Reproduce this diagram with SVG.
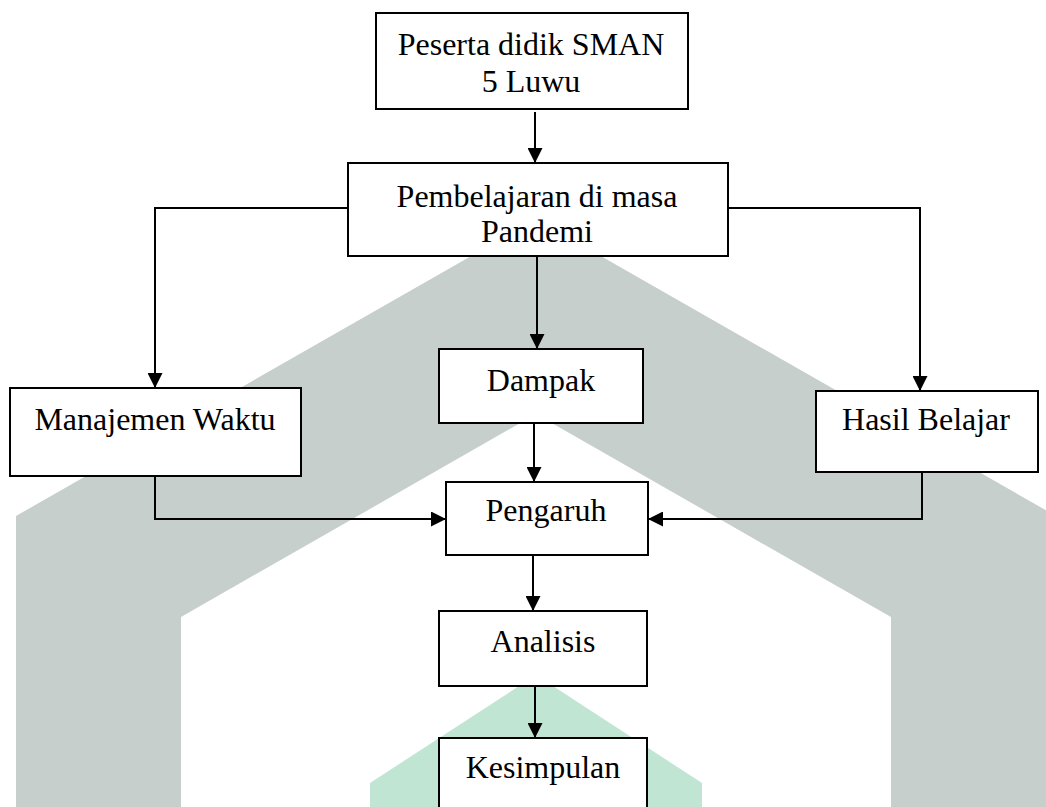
<svg xmlns="http://www.w3.org/2000/svg" width="1046" height="807" viewBox="0 0 1046 807">
<style>
.box{fill:#ffffff;stroke:#000000;stroke-width:2}
.t{font-family:"Liberation Serif","Times New Roman",serif;font-size:32px;fill:#000000;text-anchor:middle}
.c{fill:none;stroke:#000000;stroke-width:2}
</style>
<defs>
<marker id="ah" markerUnits="userSpaceOnUse" markerWidth="16" markerHeight="15" refX="15" refY="7.5" orient="auto">
<path d="M0,0 L15,7.5 L0,15 z" fill="#000000"/>
</marker>
</defs>
<rect width="1046" height="807" fill="#ffffff"/>
<g id="watermark">
<polygon points="16,807 16,516 536,219 1056,516 1056,807 891,807 891,617 536,414 181,617 181,807" fill="#c6cfcb"/>
<polygon points="370,807 370,783 536,675 702,783 702,807" fill="#c0e5d3"/>
</g>
<g id="connectors">
<line class="c" x1="535" y1="112" x2="535" y2="163" marker-end="url(#ah)"/>
<polyline class="c" points="348,208 155,208 155,388" marker-end="url(#ah)"/>
<polyline class="c" points="728,208 920,208 920,391" marker-end="url(#ah)"/>
<line class="c" x1="537" y1="256" x2="537" y2="349" marker-end="url(#ah)"/>
<line class="c" x1="534" y1="423" x2="534" y2="482" marker-end="url(#ah)"/>
<polyline class="c" points="155,476 155,519 446,519" marker-end="url(#ah)"/>
<polyline class="c" points="922,472 922,519 648,519" marker-end="url(#ah)"/>
<line class="c" x1="533" y1="555" x2="533" y2="611" marker-end="url(#ah)"/>
<line class="c" x1="535" y1="686" x2="535" y2="738" marker-end="url(#ah)"/>
</g>
<g id="n1">
<rect class="box" x="376" y="13" width="312" height="96"/>
<text class="t" x="531" y="55">Peserta didik SMAN</text>
<text class="t" x="531" y="92">5 Luwu</text>
</g>
<g id="n2">
<rect class="box" x="348" y="163" width="380" height="93"/>
<text class="t" x="537" y="207">Pembelajaran di masa</text>
<text class="t" x="537" y="242">Pandemi</text>
</g>
<g id="n3">
<rect class="box" x="10" y="388" width="291" height="88"/>
<text class="t" x="155" y="430">Manajemen Waktu</text>
</g>
<g id="n4">
<rect class="box" x="439" y="349" width="204" height="74"/>
<text class="t" x="541" y="391">Dampak</text>
</g>
<g id="n5">
<rect class="box" x="816" y="391" width="222" height="81"/>
<text class="t" x="926" y="430">Hasil Belajar</text>
</g>
<g id="n6">
<rect class="box" x="446" y="482" width="202" height="73"/>
<text class="t" x="546" y="521">Pengaruh</text>
</g>
<g id="n7">
<rect class="box" x="439" y="611" width="208" height="75"/>
<text class="t" x="543" y="652">Analisis</text>
</g>
<g id="n8">
<rect class="box" x="439" y="738" width="208" height="90"/>
<text class="t" x="543" y="778">Kesimpulan</text>
</g>
</svg>
